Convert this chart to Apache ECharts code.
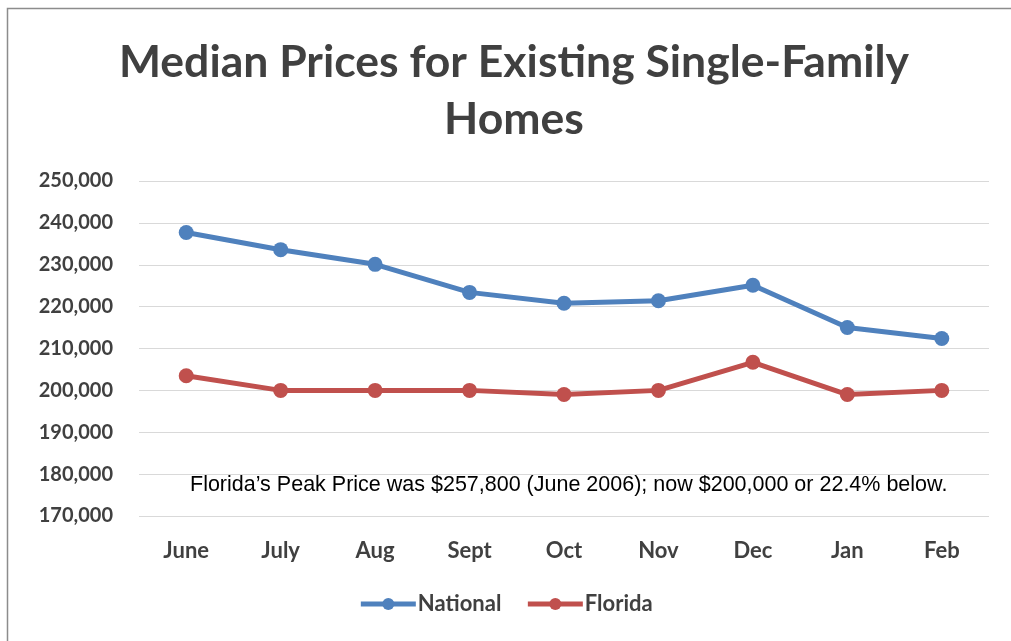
<!DOCTYPE html>
<html>
<head>
<meta charset="utf-8">
<script src="https://cdn.jsdelivr.net/npm/echarts@6/dist/echarts.min.js"></script>
<style>
  html, body { margin: 0; padding: 0; background: #fff; }
  #chart { width: 1011px; height: 641px; }
</style>
</head>
<body>
<div id="chart"></div>
<script>
// data
var months = ["June", "July", "Aug", "Sept", "Oct", "Nov", "Dec", "Jan", "Feb"]
var national = [237700, 233600, 230100, 223400, 220800, 221400, 225100, 215000, 212400]
var florida = [203500, 200000, 200000, 200000, 199000, 200000, 206700, 199000, 200000]
var note = "Florida\u2019s Peak Price was $257,800 (June 2006); now $200,000 or 22.4% below."

var ins = echarts.init(document.getElementById("chart"))
var labelFont = "Lato, 'Open Sans', sans-serif"

function lineSeries(name, data, color) {
  return {
    name: name,
    type: "line",
    data: data,
    symbol: "circle",
    symbolSize: 15,
    lineStyle: { color: color, width: 5 },
    itemStyle: { color: color },
    emphasis: { disabled: true },
    z: 3
  }
}

ins.setOption({
  animation: false,
  title: {
    text: "Median Prices for Existing Single-Family\nHomes",
    left: 509,
    top: 29,
    textAlign: "center",
    textStyle: {
      fontFamily: labelFont,
      fontWeight: "bold",
      fontSize: 44.5,
      lineHeight: 57,
      color: "#404040"
    }
  },
  grid: { left: 139, right: 22, top: 181, bottom: 125 },
  xAxis: {
    type: "category",
    data: months,
    boundaryGap: true,
    axisLine: { show: false },
    axisTick: { show: false },
    axisLabel: {
      margin: 24,
      fontFamily: labelFont,
      fontWeight: "bold",
      fontSize: 22,
      color: "#404040"
    }
  },
  yAxis: {
    type: "value",
    min: 170000,
    max: 250000,
    interval: 10000,
    axisLine: { show: false },
    axisTick: { show: false },
    splitLine: { lineStyle: { color: "#d9d9d9", width: 1 } },
    axisLabel: {
      margin: 26,
      fontFamily: labelFont,
      fontWeight: "bold",
      fontSize: 20,
      color: "#404040",
      formatter: function (v) { return v.toLocaleString("en-US") }
    }
  },
  legend: {
    bottom: 21,
    left: "center",
    itemWidth: 55,
    itemHeight: 15,
    itemGap: 24,
    lineStyle: { width: 5 },
    textStyle: {
      fontFamily: labelFont,
      fontWeight: "bold",
      fontSize: 22,
      color: "#404040",
      padding: [0, 0, 0, -3]
    },
    data: ["National", "Florida"]
  },
  graphic: [
    {
      type: "rect",
      shape: { x: 7.5, y: 8.5, width: 1100, height: 700 },
      style: { fill: "none", stroke: "#8c8c8c", lineWidth: 1.5 },
      silent: true
    },
    {
      type: "text",
      left: 190,
      top: 474,
      style: {
        text: note,
        font: "21.5px 'Liberation Sans', Arial, sans-serif",
        fill: "#000"
      }
    }
  ],
  series: [
    lineSeries("National", national, "#4f81bd"),
    lineSeries("Florida", florida, "#c0504d")
  ]
})
</script>
</body>
</html>
